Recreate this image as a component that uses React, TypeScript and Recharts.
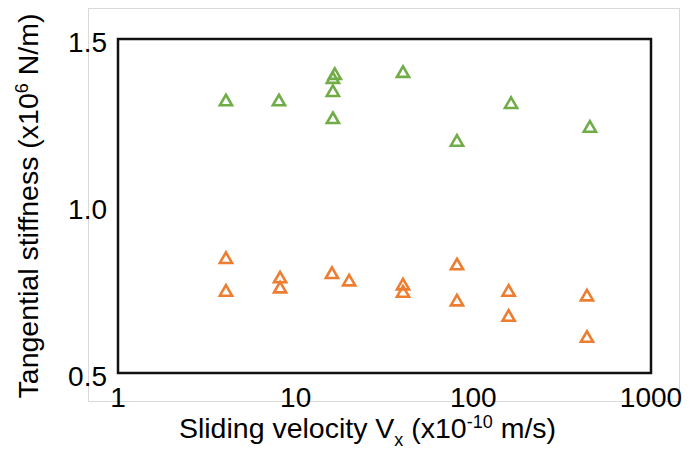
import React from 'react';
import { ScatterChart, Scatter, XAxis, YAxis, ZAxis, ReferenceArea, Label } from 'recharts';

const FONT = '"Liberation Sans", Arial, Helvetica, sans-serif';
const GREEN = '#70AD47';
const ORANGE = '#ED7D31';

// Tick labels
const velocityTicks = [1, 10, 100, 1000];
const stiffnessTicks = [0.5, 1.0, 1.5];

// Upper (green) series
const greenVelocity = [4.05, 8.05, 16.6, 16.2, 16.2, 16.2, 40.2, 80.9, 163, 453];
const greenStiffness = [1.312, 1.312, 1.391, 1.379, 1.34, 1.259, 1.397, 1.191, 1.304, 1.233];

// Lower (orange) series
const orangeVelocity = [4.05, 4.05, 8.17, 8.17, 16.0, 20.0, 40.2, 40.2, 80.9, 80.9, 158, 158, 436, 436];
const orangeStiffness = [0.84, 0.742, 0.782, 0.752, 0.795, 0.773, 0.761, 0.739, 0.821, 0.713, 0.742, 0.667, 0.728, 0.604];

const toPoints = (xs: number[], ys: number[]) => xs.map((v, i) => ({ v, k: ys[i] }));
const greenData = toPoints(greenVelocity, greenStiffness);
const orangeData = toPoints(orangeVelocity, orangeStiffness);

const XTick = (props: any) => {
  const { x, y, payload } = props;
  return (
    <text x={x} y={y + 34} textAnchor="middle" fontSize={28} fontFamily={FONT} fill="#000">
      {payload.value}
    </text>
  );
};

const YTick = (props: any) => {
  const { x, y, payload } = props;
  return (
    <text x={x - 11} y={y + 13} textAnchor="end" fontSize={28} fontFamily={FONT} fill="#000">
      {Number(payload.value).toFixed(1)}
    </text>
  );
};

const XTitle = (props: any) => {
  const vb = props.viewBox || { x: 118, y: 373, width: 533, height: 76 };
  const cx = vb.x + vb.width / 2 - 17;
  const by = vb.y + 65;
  return (
    <text x={cx} y={by} textAnchor="middle" fontSize={28.5} fontFamily={FONT} fill="#000">
      Sliding velocity V
      <tspan fontSize={18} dy={8}>x</tspan>
      <tspan dy={-8}> (x10</tspan>
      <tspan fontSize={18} dy={-10}>-10</tspan>
      <tspan dy={10}> m/s)</tspan>
    </text>
  );
};

const YTitle = (props: any) => {
  const vb = props.viewBox || { x: 0, y: 39, width: 118, height: 334 };
  const cx = vb.x + 38;
  const cy = vb.y + vb.height / 2;
  return (
    <text
      x={cx}
      y={cy}
      transform={`rotate(-90, ${cx}, ${cy})`}
      textAnchor="middle"
      fontSize={28.5}
      fontFamily={FONT}
      fill="#000"
    >
      Tangential stiffness (x10
      <tspan fontSize={18} dy={-10}>6</tspan>
      <tspan dy={10}> N/m)</tspan>
    </text>
  );
};

export default function App() {
  return (
    <div style={{ position: 'absolute', left: 0, top: 0, width: 690, height: 449, background: '#fff' }}>
      <div
        style={{
          position: 'absolute',
          left: 88,
          top: 8,
          width: 592,
          height: 394,
          border: '1px solid #d9d9d9',
          boxSizing: 'border-box',
        }}
      />
      <ScatterChart width={690} height={449} margin={{ top: 39, right: 39, bottom: 0, left: 0 }}>
        <XAxis
          dataKey="v"
          type="number"
          scale="log"
          domain={[1, 1000]}
          ticks={velocityTicks}
          allowDataOverflow
          axisLine={false}
          tickLine={false}
          tickSize={0}
          tickMargin={0}
          height={76}
          tick={<XTick />}
          interval={0}
        >
          <Label content={<XTitle />} />
        </XAxis>
        <YAxis
          dataKey="k"
          type="number"
          domain={[0.5, 1.5]}
          ticks={stiffnessTicks}
          allowDataOverflow
          axisLine={false}
          tickLine={false}
          tickSize={0}
          tickMargin={0}
          width={118}
          tick={<YTick />}
          interval={0}
        >
          <Label content={<YTitle />} />
        </YAxis>
        <ZAxis range={[125, 125]} />
        <ReferenceArea
          x1={1}
          x2={1000}
          y1={0.5}
          y2={1.5}
          fill="none"
          fillOpacity={0}
          stroke="#111"
          strokeWidth={2.5}
          ifOverflow="visible"
        />
        <Scatter
          data={greenData}
          shape="triangle"
          fill="none"
          stroke={GREEN}
          strokeWidth={2.6}
          isAnimationActive={false}
        />
        <Scatter
          data={orangeData}
          shape="triangle"
          fill="none"
          stroke={ORANGE}
          strokeWidth={2.6}
          isAnimationActive={false}
        />
      </ScatterChart>
    </div>
  );
}
